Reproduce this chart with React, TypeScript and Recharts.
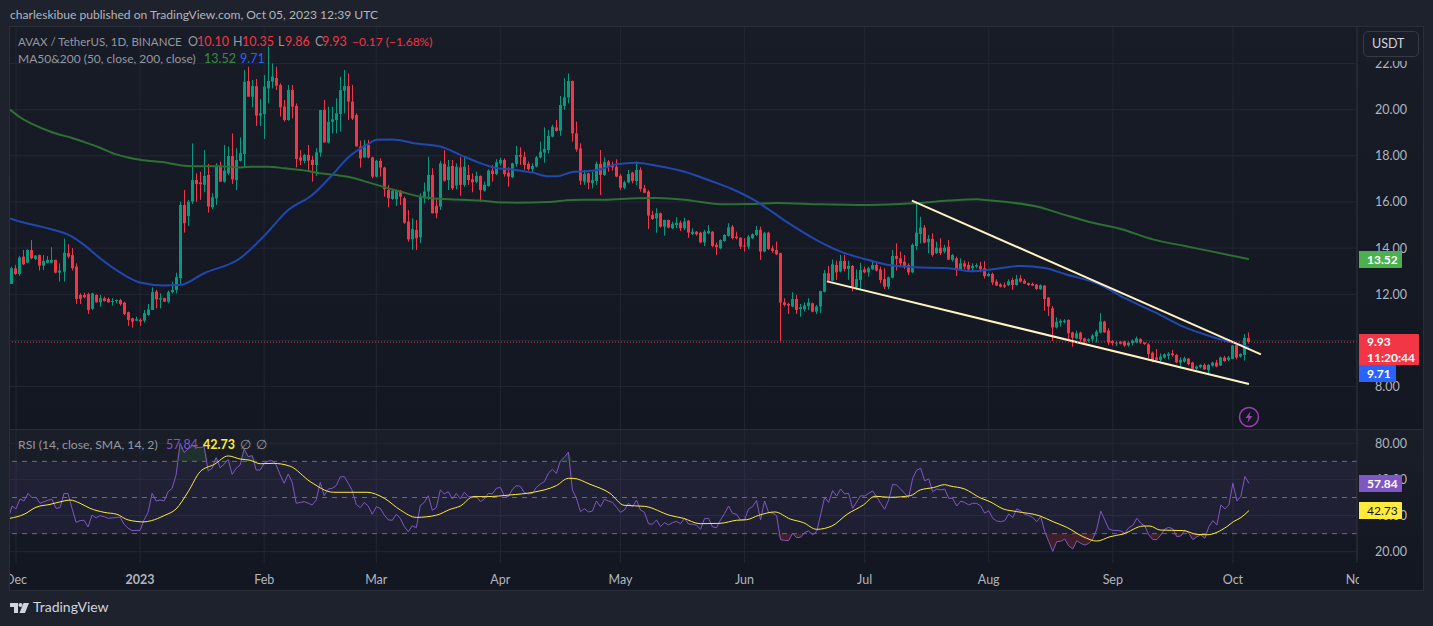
import React from "react";
import { ComposedChart, Bar, Line, Area, XAxis, YAxis, CartesianGrid, ReferenceLine, ReferenceArea } from "recharts";

const FONT = "Lato, 'Noto Sans', sans-serif";

// day index: 0 = 1 Dec 2022. First candle is 30 Nov 2022 (day -1).
const firstDay = -1;
const ohlc: number[][] = [
[12.45,13.2,12.45,13.13],[13.13,13.27,12.84,12.88],[12.88,13.66,12.79,13.59],[13.63,13.92,13.27,13.3],[13.37,13.95,13.34,13.92],[13.92,14.35,13.52,13.56],[13.53,13.7,13.49,13.67],[13.7,13.72,13.03,13.24],[13.24,13.7,13.05,13.44],[13.37,13.66,13.34,13.49],
[13.37,14.04,13.34,13.49],[13.49,13.5,12.91,12.94],[12.94,13.34,12.55,13.03],[12.98,14.41,12.55,13.8],[13.78,14.17,13.56,13.63],[13.7,14,13.03,13.13],[13.2,13.34,11.58,11.8],[11.97,12.04,11.58,11.8],[11.97,12.07,11.83,11.87],[12.01,12.07,11.15,11.32],
[11.37,12.07,11.32,12.04],[11.97,12,11.64,11.65],[11.65,11.97,11.47,11.83],[11.83,11.9,11.68,11.71],[11.8,11.86,11.64,11.65],[11.68,11.83,11.51,11.71],[11.71,11.78,11.61,11.75],[11.75,11.8,11.51,11.58],[11.64,11.68,11.1,11.15],[11.22,11.25,10.63,10.89],
[10.96,10.99,10.56,10.82],[10.86,11.03,10.84,10.92],[10.89,10.96,10.63,10.82],[10.86,11.32,10.77,11.18],[11.1,11.58,11.08,11.35],[11.32,12.3,11.32,12.09],[12.12,12.19,11.39,11.78],[11.77,12.04,11.39,11.83],[11.83,11.85,11.68,11.68],[11.68,12.16,11.61,12.09],
[12.09,12.55,12.04,12.19],[12.19,12.94,12.04,12.74],[12.7,16.01,12.4,15.87],[15.87,16.52,14.67,15.08],[15.39,16.09,14.96,16.01],[16.01,18.54,15.91,16.95],[16.95,17.24,16.01,16.78],[16.85,17.31,16.09,16.77],[16.74,18.25,16.42,17.13],[17.17,17.65,15.54,15.8],
[15.77,16.38,15.68,16.2],[16.16,17.68,15.87,17.56],[17.56,17.75,16.88,16.88],[16.88,18.47,16.84,17.36],[17.24,18.4,17.17,17.99],[17.99,18.97,16.78,16.98],[16.95,18.33,16.52,17.82],[17.78,18.8,17.75,18.11],[18.08,21.72,17.5,21.21],[21.24,21.86,20.56,20.56],
[20.56,21.28,20.1,21.02],[21.02,21.33,19.29,19.74],[19.74,20.45,19.29,19.84],[19.81,21.5,18.73,21],[20.92,22.73,20.27,21.24],[21.21,22,20.92,21.43],[21.37,21.86,20.85,21.04],[21.07,21.14,19.7,20.1],[20.13,20.42,19.48,19.55],[19.55,21.07,19.52,20.85],
[20.85,21.07,19.62,20.13],[20.16,20.27,17.5,17.86],[17.93,18.25,17.6,17.79],[17.78,18.08,17.67,18.04],[18.04,18.47,17.31,17.79],[17.82,18,16.88,17.6],[17.6,18.33,17.13,18.15],[18.14,19.99,17.96,19.98],[19.99,20.42,18.57,18.58],[18.57,20.13,18.54,19.47],
[19.47,20.13,18.97,19.58],[19.55,20.49,18.97,19.84],[19.81,21.43,19.05,20.85],[20.82,21.72,19.84,21.02],[21.02,21.57,19.55,20.35],[20.35,21.07,19.55,19.62],[19.77,19.84,18.4,18.41],[18.4,18.66,17.49,17.89],[17.93,18.69,17.92,18.47],[18.47,18.69,17.89,17.93],
[17.93,17.96,17.03,17.1],[17.1,17.82,17.07,17.78],[17.78,17.89,17.1,17.49],[17.49,17.53,16.23,16.55],[16.52,16.74,15.77,16.16],[16.13,16.55,16.09,16.49],[16.12,16.55,15.83,16.52],[16.49,16.52,15.87,16.23],[16.16,16.23,15.05,15.1],[15.15,15.65,14.28,14.38],
[14.38,15.29,13.92,14.82],[14.79,15.22,13.92,14.43],[14.47,16.38,14.21,16.23],[16.16,16.84,15.94,16.45],[16.45,17.96,16.09,17.17],[17.17,17.46,15.5,15.51],[15.83,16.16,15.29,15.51],[15.8,17.78,15.65,17.67],[17.65,18.25,16.88,16.92],[16.95,17.82,16.52,17.53],
[17.56,17.82,16.52,16.59],[16.71,17.67,16.55,17.53],[17.5,17.96,16.27,16.74],[16.74,17.96,16.66,17.53],[17.17,17.6,16.74,16.95],[16.98,17.24,16.42,16.85],[16.87,17.31,16.81,17.13],[17.13,17.15,16.01,16.52],[16.49,16.88,16.45,16.74],[16.69,17.41,16.66,17.36],
[17.36,17.6,16.88,17.21],[17.21,17.85,17.17,17.72],[17.67,17.92,17.57,17.82],[17.82,17.89,17.1,17.21],[17.27,17.5,16.66,17.1],[17.07,17.7,17.03,17.67],[17.65,18.43,17.53,18.04],[18.04,18.37,17.6,17.96],[17.96,18.18,17.39,17.6],[17.65,17.75,17.36,17.42],
[17.42,17.68,17.27,17.56],[17.53,17.99,17.5,17.93],[17.93,18.61,17.89,18.18],[18.14,19.23,17.7,18.3],[18.25,19.12,18.11,18.86],[18.83,19.34,18.8,19.26],[19.23,19.55,19.05,19.08],[19.08,20.59,18.86,20.2],[20.16,21.36,19.99,20.53],[20.53,21.57,20.27,21.24],
[21.24,21.26,18.61,18.97],[18.97,19.48,18.18,18.28],[18.32,18.54,16.74,16.92],[16.88,17.39,16.74,17.21],[17.24,17.27,16.55,16.84],[16.81,17.31,16.59,16.95],[16.91,17.75,16.74,17.65],[17.65,18.25,16.3,17.17],[17.17,17.93,17.13,17.72],[17.75,17.82,17.31,17.53],
[17.6,17.75,17.36,17.5],[17.53,17.85,17.07,17.1],[17.13,17.21,16.52,16.62],[16.62,16.92,16.55,16.85],[16.85,17.39,16.81,17.21],[17.27,17.31,16.81,16.91],[16.91,17.75,16.74,17.39],[17.39,17.5,16.45,16.56],[16.59,16.74,16.38,16.4],[16.45,16.52,14.83,15.41],
[15.44,15.62,15.22,15.26],[15.29,15.73,14.67,15.51],[15.51,15.54,14.89,14.93],[14.93,15.23,14.54,15.22],[15.22,15.23,14.86,14.89],[14.86,15.15,14.82,15.05],[15,15.34,14.86,15.1],[15.1,15.19,14.74,14.86],[14.86,15.32,14.79,15.15],[15.19,15.22,14.45,14.67],
[14.61,14.86,14.57,14.71],[14.71,14.74,14.54,14.6],[14.67,14.71,14.21,14.25],[14.25,14.79,14.09,14.71],[14.64,15,14.61,14.74],[14.71,14.74,14.04,14.09],[14.14,14.24,13.7,14.04],[13.99,14.38,13.95,14.35],[14.31,14.6,14.28,14.57],[14.53,15.08,14.5,14.9],
[14.93,15,14.38,14.43],[14.5,14.71,14.38,14.43],[14.45,14.47,13.96,14.07],[14.11,14.43,13.85,14.07],[14.07,14.57,13.96,14.5],[14.43,14.64,14.4,14.6],[14.57,14.96,14.53,14.79],[14.79,14.93,13.49,13.85],[13.85,14.71,13.82,14.64],[14.67,14.71,13.92,13.96],
[13.99,14.11,13.8,13.88],[13.92,14.28,13.7,13.73],[13.78,13.8,9.98,11.64],[11.65,11.83,11.47,11.54],[11.58,11.64,11.15,11.51],[11.47,12.09,11.44,11.8],[11.8,11.97,11.15,11.32],[11.36,11.58,11.03,11.44],[11.35,11.65,11.25,11.51],[11.49,11.83,11.32,11.64],
[11.61,11.64,11.22,11.25],[11.25,11.54,11.15,11.47],[11.47,12.15,11.18,12.14],[12.11,13.05,12.08,12.91],[12.91,13.23,12.55,12.59],[12.59,13.51,12.56,13.3],[13.27,13.46,12.62,12.95],[12.99,13.71,12.95,13.44],[13.44,13.71,12.99,13.1],[13.1,13.46,12.62,13.23],
[13.23,13.27,12.12,12.3],[12.3,13.08,12.19,12.66],[12.62,13.36,12.19,13.05],[13.08,13.2,12.91,12.95],[12.95,13.2,12.77,13.13],[13.08,13.46,13.05,13.27],[13.27,13.41,12.99,13.03],[13.08,13.2,12.48,12.62],[12.66,13.13,12.23,12.33],[12.33,12.77,12.23,12.73],
[12.72,13.92,12.69,13.66],[13.66,14.21,13.03,13.53],[13.56,13.85,13.2,13.34],[13.41,13.7,13.1,13.23],[13.27,13.34,12.84,12.95],[12.95,14.21,12.91,14.14],[14.09,16.01,13.92,14.67],[14.61,15.36,14.21,14.89],[14.89,15,14.21,14.24],[14.25,14.57,13.78,14.4],
[14.4,14.64,13.63,13.7],[13.78,14.28,13.75,14.02],[14.02,14.43,13.7,13.78],[13.85,14.14,13.78,14.02],[14.06,14.35,13.49,13.5],[13.49,13.75,13.42,13.7],[13.56,13.63,12.79,13.05],[13.05,13.56,13.03,13.34],[13.34,13.46,13.08,13.2],[13.27,13.41,13.03,13.08],
[13.13,13.34,13.01,13.23],[13.2,13.34,13.13,13.26],[13.23,13.41,12.95,13.08],[13.13,13.44,12.68,12.79],[12.79,12.94,12.77,12.88],[12.88,12.94,12.4,12.51],[12.55,12.65,12.36,12.38],[12.43,12.48,12.3,12.33],[12.39,12.51,12.27,12.33],[12.39,12.65,12.36,12.56],
[12.62,12.72,12.19,12.4],[12.4,12.84,12.38,12.66],[12.69,12.84,12.51,12.55],[12.59,12.66,12.45,12.46],[12.48,12.51,12.36,12.4],[12.45,12.51,12.36,12.38],[12.42,12.45,12.19,12.23],[12.22,12.43,12.19,12.39],[12.38,12.4,11.29,11.8],[11.86,11.87,11.06,11.47],
[11.39,11.49,9.98,10.56],[10.56,11,10.52,10.81],[10.77,10.92,10.6,10.85],[10.79,10.92,10.74,10.86],[10.89,10.91,10.02,10.31],[10.35,10.38,9.73,10.12],[10.09,10.43,10.05,10.31],[10.34,10.38,9.85,10.05],[10.09,10.12,9.88,9.95],[9.99,10.09,9.92,10.05],
[10.05,10.28,9.95,10.21],[10.17,10.46,9.91,10.38],[10.34,11.18,10.31,10.82],[10.82,10.85,10.33,10.35],[10.43,10.53,9.81,9.91],[9.98,10.02,9.78,9.88],[9.88,9.98,9.76,9.91],[9.94,9.98,9.83,9.86],[9.96,9.99,9.73,9.78],[9.79,9.95,9.73,9.91],
[9.88,10.05,9.79,9.99],[9.92,10.17,9.88,10.09],[10.06,10.09,9.85,9.91],[9.91,9.92,9.81,9.85],[9.83,9.88,9.23,9.42],[9.47,9.52,9.05,9.16],[9.26,9.63,9.13,9.16],[9.16,9.44,9.08,9.3],[9.26,9.44,9.21,9.4],[9.34,9.49,9.18,9.42],
[9.44,9.59,9.3,9.36],[9.37,9.42,9.01,9.05],[9.04,9.27,8.79,9.16],[9.08,9.3,9.04,9.23],[9.21,9.24,8.92,8.97],[9.04,9.08,8.75,8.77],[8.78,8.92,8.72,8.87],[8.84,8.97,8.79,8.94],[8.94,9.01,8.72,8.75],[8.72,8.97,8.58,8.94],
[8.91,9.08,8.87,9.04],[9.04,9.16,8.84,8.87],[8.91,9.3,8.9,9.26],[9.26,9.33,9.08,9.11],[9.16,9.33,9.11,9.26],[9.2,9.8,9.18,9.78],[9.8,9.91,9.18,9.26],[9.3,9.44,9.26,9.42],[9.37,10.28,9.13,10.11],[10.1,10.35,9.86,9.93],
];

const ma200: number[][] = [[-1.5,20],[1,19.67],[4,19.38],[9,19.02],[14,18.77],[18,18.54],[21,18.35],[25,18.06],[28,17.93],[31,17.83],[38,17.69],[41,17.59],[44,17.55],[51,17.55],[56,17.49],[59,17.53],[63,17.53],[67,17.46],[73,17.34],[76,17.24],[81,17.14],[84,17.05],[88,16.85],[93,16.59],[96,16.45],[101,16.23],[104,16.16],[108,16.12],[116,16.06],[120,15.99],[125,15.97],[133,16],[139,16.09],[147,16.1],[155,16.16],[160,16.17],[167,16.1],[176,15.9],[183,15.91],[190,15.96],[201,15.9],[213,15.87],[224,15.94],[233,16.06],[240,16.12],[243,16.07],[255,15.8],[262,15.44],[269,15.1],[276,14.83],[284,14.38],[292,14.09],[298,13.88],[308,13.52]];
const ma50: number[][] = [[-1.5,15.29],[1,15.15],[7,14.9],[14,14.5],[17,14.14],[21,13.56],[27,12.84],[31,12.51],[37,12.38],[41,12.4],[47,12.91],[56,13.56],[62,14.53],[68,15.65],[74,16.3],[79,17.17],[83,17.93],[88,18.51],[90,18.69],[94,18.71],[100,18.53],[106,18.4],[111,18.04],[116,17.68],[118,17.56],[120,17.47],[124,17.41],[129,17.27],[133,17.11],[135,17.11],[139,17.3],[145,17.37],[150,17.63],[155,17.7],[160,17.57],[167,17.31],[173,16.95],[179,16.55],[184,16.12],[188,15.68],[193,15.08],[200,14.35],[206,13.85],[212,13.53],[218,13.27],[225,13.17],[233,13.13],[239,13],[244,13.08],[251,13.23],[257,13.14],[262,12.88],[271,12.4],[277,11.83],[285,11.18],[291,10.64],[300,10.09],[305,9.85],[308,9.71]];
const trendUpper: number[][] = [[223.8,16.06],[311,9.4]];
const trendLower: number[][] = [[202.6,12.56],[308,8.11]];

const rsi: number[][] = [[-1.5,41.3],[-1,45.3],[0,43.7],[1,49.2],[2,48.1],[3,52.3],[4,49.9],[5,50.1],[6,46.8],[8,48.5],[9,49],[10,44],[11,44.4],[12,52.3],[13,52.1],[14,44],[15,36.3],[16,37.2],[17,37.4],[18,33.7],[19,40.3],[20,38.7],[21,40],[22,39.4],[23,38.5],[25,38.9],[26,39.2],[27,35.2],[28,33],[29,31.7],[30,31.8],[31,31.8],[32,37.6],[33,41.8],[34,52.3],[35,48.1],[36,48.6],[37,48.1],[38,53.2],[39,55.1],[40,62.5],[41,80],[42,75],[43,76.9],[44,78.7],[45,77.8],[46,77.6],[47,78.2],[48,64.7],[49,66.2],[50,72.1],[51,66.5],[52,68.4],[53,71.1],[54,62.8],[55,66.2],[56,68],[57,76.9],[58,72.6],[59,73.2],[60,65.2],[61,65.2],[62,68.9],[63,70.2],[64,70.4],[65,68],[66,62.5],[67,57.9],[68,63],[69,58.4],[70,46.8],[71,47.3],[72,47.7],[73,46.8],[74,45.9],[75,48.6],[76,58.4],[77,51],[78,54.7],[79,55.1],[80,56.6],[81,61.4],[82,61.6],[83,57.9],[84,53.8],[85,46.2],[86,44.4],[87,47.2],[88,45.3],[89,40.7],[90,44.9],[91,44],[92,40.3],[93,37.6],[94,37.4],[95,40.7],[96,38.5],[97,33.9],[98,31.1],[99,34.4],[100,33.3],[101,45.5],[102,47.3],[103,51],[104,42.9],[105,44.4],[106,54.2],[107,52],[108,53.2],[109,49.2],[110,52.3],[111,49.2],[112,52.9],[113,50.5],[114,50.3],[115,50.7],[116,47.7],[117,49.2],[118,52.3],[119,52],[120,55.1],[121,55.6],[122,51],[123,50.5],[124,54.5],[125,56.6],[126,56.2],[127,52.7],[128,52],[129,52.3],[130,55.6],[131,57.5],[132,58.8],[133,63.4],[134,65.6],[135,63.4],[136,70.2],[137,72.3],[138,75.2],[139,54.2],[140,49.6],[141,42.2],[142,43.8],[143,42],[144,42.5],[145,48.1],[146,44.9],[147,49],[148,48.1],[149,47.3],[150,44.6],[151,41.8],[152,43.1],[153,46.8],[154,44.9],[155,48.5],[156,43.1],[157,41.8],[158,35.5],[159,35.2],[160,37.6],[161,33.9],[162,36.1],[163,34.8],[164,36.1],[165,36.8],[166,35.5],[167,38.5],[168,35.4],[169,35.2],[170,34.8],[171,32.4],[172,38.3],[173,38.5],[174,33.7],[175,33.3],[176,37.6],[177,41.1],[178,45.3],[179,41.3],[180,40.7],[181,37.6],[182,37.6],[183,43.7],[184,44.9],[185,48.3],[186,37.6],[187,48.1],[188,41.8],[189,41.3],[190,40],[191,26.7],[192,26.3],[193,26.1],[194,30.2],[195,27.8],[196,28],[197,30.6],[198,31.5],[199,29.4],[200,31.1],[201,40.3],[202,50.1],[203,47.3],[204,53.8],[205,50.8],[206,54.7],[207,52],[208,52.3],[209,44],[210,47.5],[211,51],[212,50.8],[213,52.3],[214,53.6],[215,50.5],[216,46.8],[217,43.5],[218,48.6],[219,57.3],[220,56.9],[221,54.7],[222,52.3],[223,49.9],[224,60.6],[225,65.1],[226,66.2],[227,59.2],[228,60.3],[229,53.2],[230,54.7],[231,54.2],[232,54.7],[233,49.6],[234,49.6],[235,45.3],[236,47.9],[237,47.3],[238,45.9],[239,46.8],[240,46.8],[241,45.3],[242,41.3],[243,42.7],[244,38.5],[245,37],[246,36.6],[247,37.2],[248,40.9],[249,38.9],[250,43.7],[251,42.7],[252,40.7],[253,40],[254,39],[255,36.6],[256,39.4],[257,31.1],[258,25.6],[259,20.2],[260,25.6],[261,25.8],[262,27],[263,23.2],[264,21.5],[265,26.1],[266,24.6],[267,23.7],[268,24.6],[269,27],[270,32.6],[271,42.5],[272,37.6],[273,32.6],[274,31.8],[275,31.8],[276,31.5],[277,30.2],[278,33.3],[279,34.6],[280,38.5],[281,35.7],[282,34.2],[283,29.3],[284,26.7],[285,26.7],[286,29.3],[287,32.6],[288,33.5],[289,32.6],[290,28.3],[291,28.7],[292,32],[293,30.2],[294,26.7],[295,28.3],[296,29.3],[297,27.4],[298,33.9],[299,37.2],[300,34.8],[301,45.9],[302,43.7],[303,45.9],[304,57.9],[305,48.1],[306,50.7],[307,61.7],[308,57.84]];
const rsiMa: number[][] = [[-1.5,38.5],[2,40.7],[5,44.6],[8.5,46.2],[12,48.1],[13.5,48.6],[16,46.8],[18.5,44],[22,41.8],[25.2,40.7],[28,37.6],[32,36.5],[33.8,37.2],[37,40],[40,43.7],[43,53.2],[46,64.3],[49.6,68.4],[53,73],[56,71.3],[58.5,70.6],[61,68.7],[64.3,68.9],[68.5,67.3],[73.5,58.8],[79.3,52.9],[87.7,52.9],[92,49.6],[96,43.1],[100,39],[105,40.2],[108.5,43.5],[111,45.3],[114.3,50.5],[117.6,50.5],[123.4,51.4],[129.2,52.9],[135,56.6],[138,60.6],[139.2,60.6],[143.4,57.3],[148.4,52.3],[151.9,45.7],[157.1,45.1],[163.4,40.1],[166.7,38.5],[170.9,35.5],[175.9,35.7],[180,37.4],[182.5,37.7],[185.5,40.1],[189.6,42],[193.4,38.1],[196.7,36.1],[200,32.4],[203.8,34.2],[207.6,40.7],[211.7,45.9],[214.6,50.7],[218.4,50.1],[223.4,51],[225.9,54.2],[229.2,55.5],[232,57.1],[233.3,56.4],[237,54.7],[240.8,49.9],[243.3,47.7],[246.6,43.7],[250,42.2],[255.8,39.8],[259.1,36.6],[262.5,33.5],[266.6,28.3],[270,25.9],[273.3,28.3],[276.6,29.8],[281.6,34.2],[283.3,34.2],[285.8,32],[291.6,31.7],[295,29.6],[297.5,29.4],[302.5,33.9],[304.1,36.6],[306,38.9],[308,42.73]];

const monthDays = [0, 31, 62, 90, 121, 151, 182, 212, 243, 274, 304, 335];
const monthLabels = ["Dec", "2023", "Feb", "Mar", "Apr", "May", "Jun", "Jul", "Aug", "Sep", "Oct", "Nov"];
const priceTicks = [8, 10, 12, 14, 16, 18, 20, 22];
const rsiTicks = [20, 40, 60, 80];
const lastClose = 9.93;

const candleRows = ohlc.map((r, i) => ({ d: firstDay + i, o: r[0], h: r[1], l: r[2], c: r[3], range: [r[2], r[1]] }));
const toRows = (pts: number[][]) => pts.map((p) => ({ d: p[0], v: p[1] }));
const rsiRows = rsi.map((p) => ({ d: p[0], v: p[1], over: [70, Math.max(70, p[1])], under: [Math.min(30, p[1]), 30] }));

const xDomain: [number, number] = [-1.5, 335];
const GRID = "#232732";
const AXIS = "#2a2e39";
const TXT = "#b2b5be";
const FS = 12.5;

function Candle(props: any) {
  const { x, y, width, height, payload } = props;
  const top = Math.min(y, y + height);
  const H = Math.abs(height);
  const k = H / (payload.h - payload.l);
  const cx = Math.round(x + width / 2 - 0.5);
  const up = payload.c >= payload.o;
  const color = up ? "#089981" : "#f23645";
  const bTop = top + (payload.h - Math.max(payload.o, payload.c)) * k;
  const bH = Math.max(1, Math.abs(payload.o - payload.c) * k);
  return (
    <g>
      <rect x={cx} y={top} width={1} height={H} fill={color} />
      <rect x={cx - 1} y={bTop} width={3} height={bH} fill={color} />
    </g>
  );
}

function TimeTick(props: any) {
  const { x, y, payload } = props;
  const i = monthDays.indexOf(payload.value);
  return (
    <text x={x} y={y + 13} textAnchor="middle" fill={TXT} fontSize={FS} fontFamily={FONT} fontWeight={i === 1 ? 700 : 400}>
      {monthLabels[i]}
    </text>
  );
}

function PriceTick(props: any) {
  const { y, payload, x } = props;
  return (
    <text x={x + 10} y={y + 4.5} textAnchor="start" fill={TXT} fontSize={FS} fontFamily={FONT}>
      {payload.value.toFixed(2)}
    </text>
  );
}

const T: React.FC<{ x: number; y: number; c?: string; w?: number; s?: number; children: React.ReactNode }> = ({ x, y, c = TXT, w = 400, s = FS, children }) => (
  <span style={{ position: "absolute", left: x, top: y, zIndex: 5, color: c, fontWeight: w, fontSize: s, lineHeight: "16px", whiteSpace: "nowrap", fontFamily: FONT }}>{children}</span>
);

const Box: React.FC<{ x: number; y: number; w: number; h: number; bg: string; c?: string; weight?: number; lines: string[] }> = ({ x, y, w, h, bg, c = "#fff", weight = 700, lines }) => (
  <div style={{ position: "absolute", zIndex: 6, left: x, top: y, width: w, height: h, background: bg, color: c, fontFamily: FONT, fontSize: 12, fontWeight: weight, lineHeight: `${h / lines.length}px`, paddingLeft: 8, boxSizing: "border-box", borderRadius: "0 1px 1px 0", whiteSpace: "nowrap" }}>
    {lines.map((l) => (
      <div key={l}>{l}</div>
    ))}
  </div>
);

export default function App() {
  return (
    <div style={{ position: "absolute", left: 0, top: 0, width: 1433, height: 626, background: "#1e222d", overflow: "hidden", fontFamily: FONT }}>
      <T x={10} y={7} s={12.1}>charleskibue published on TradingView.com, Oct 05, 2023 12:39 UTC</T>

      <div style={{ position: "absolute", left: 9, top: 26, width: 1415, height: 565, background: AXIS }} />
      <div style={{ position: "absolute", left: 10, top: 27, width: 1413, height: 402, background: "linear-gradient(#181c27,#131722)" }} />
      <div style={{ position: "absolute", left: 10, top: 430, width: 1413, height: 133, background: "linear-gradient(#1a1e29,#131722)" }} />
      <div style={{ position: "absolute", left: 10, top: 563, width: 1413, height: 27, background: "#131722" }} />

      <div style={{ position: "absolute", left: 10, top: 27, zIndex: 1 }}>
        <ComposedChart width={1413} height={403} data={candleRows} margin={{ top: 0, right: 0, bottom: 0, left: 0 }}>
          <CartesianGrid stroke={GRID} horizontalValues={priceTicks} verticalValues={monthDays} />
          <XAxis dataKey="d" type="number" domain={xDomain} ticks={monthDays} hide allowDataOverflow />
          <YAxis orientation="right" width={66} type="number" domain={[6.12, 23.58]} ticks={priceTicks} allowDataOverflow tickLine={false} axisLine={{ stroke: AXIS }} tick={<PriceTick />} interval={0} />
          <Bar dataKey="range" barSize={3} shape={<Candle />} isAnimationActive={false} />
          <Line data={toRows(ma200)} dataKey="v" stroke="#2e7034" strokeWidth={2} dot={false} type="monotone" isAnimationActive={false} />
          <Line data={toRows(ma50)} dataKey="v" stroke="#2048b0" strokeWidth={2} dot={false} type="monotone" isAnimationActive={false} />
          <Line data={toRows(trendUpper)} dataKey="v" stroke="#fff3c4" strokeWidth={2} dot={false} type="linear" isAnimationActive={false} />
          <Line data={toRows(trendLower)} dataKey="v" stroke="#fff3c4" strokeWidth={2} dot={false} type="linear" isAnimationActive={false} />
          <ReferenceLine y={lastClose} stroke="#f23645" strokeDasharray="1 2" />
        </ComposedChart>
      </div>

      <div style={{ position: "absolute", left: 10, top: 429, width: 1413, height: 1, background: AXIS, zIndex: 2 }} />

      <div style={{ position: "absolute", left: 10, top: 430, zIndex: 1 }}>
        <ComposedChart width={1413} height={160} data={rsiRows} margin={{ top: 0, right: 0, bottom: 0, left: 0 }}>
          <CartesianGrid stroke={GRID} horizontalValues={rsiTicks} verticalValues={monthDays} />
          <ReferenceArea y1={30} y2={70} fill="#7e57c2" fillOpacity={0.1} stroke="none" />
          <XAxis dataKey="d" type="number" domain={xDomain} ticks={monthDays} interval={0} height={27} tickLine={false} axisLine={false} tick={<TimeTick />} allowDataOverflow />
          <YAxis orientation="right" width={66} type="number" domain={[13.76, 87.36]} ticks={rsiTicks} allowDataOverflow tickLine={false} axisLine={{ stroke: AXIS }} tick={<PriceTick />} interval={0} />
          <ReferenceLine y={70} stroke="#6a6d78" strokeDasharray="5 5" />
          <ReferenceLine y={50} stroke="#6a6d78" strokeDasharray="5 5" />
          <ReferenceLine y={30} stroke="#6a6d78" strokeDasharray="5 5" />
          <Area dataKey="over" stroke="none" fill="#4caf50" fillOpacity={0.15} dot={false} activeDot={false} isAnimationActive={false} type="linear" />
          <Area dataKey="under" stroke="none" fill="#f23645" fillOpacity={0.2} dot={false} activeDot={false} isAnimationActive={false} type="linear" />
          <Line dataKey="v" stroke="#7e57c2" strokeWidth={1} dot={false} type="linear" isAnimationActive={false} />
          <Line data={toRows(rsiMa)} dataKey="v" stroke="#ffeb3b" strokeWidth={1} dot={false} type="monotone" isAnimationActive={false} />
        </ComposedChart>
      </div>

      {/* hides the clipped part of the last month label under the price scale */}
      <div style={{ position: "absolute", left: 1359, top: 563, width: 64, height: 27, background: "#131722", zIndex: 2 }} />

      <T x={18} y={34} c="#9598a1" s={11.5}>AVAX / TetherUS, 1D, BINANCE</T>
      <T x={188} y={34} c="#9598a1">O</T><T x={197} y={34} c="#f23645">10.10</T>
      <T x={233} y={34} c="#9598a1">H</T><T x={242} y={34} c="#f23645">10.35</T>
      <T x={278} y={34} c="#9598a1">L</T><T x={285} y={34} c="#f23645">9.86</T>
      <T x={315} y={34} c="#9598a1">C</T><T x={322} y={34} c="#f23645">9.93</T>
      <T x={352} y={34} c="#f23645" s={12}>−0.17 (−1.68%)</T>
      <T x={18} y={51} c="#9598a1" s={12}>MA50&amp;200 (50, close, 200, close)</T>
      <T x={204} y={51} c="#388e3c">13.52</T>
      <T x={240} y={51} c="#2962ff">9.71</T>

      <T x={18} y={437} c="#9598a1" s={12.2}>RSI (14, close, SMA, 14, 2)</T>
      <T x={166} y={437} c="#7e57c2">57.84</T>
      <T x={203} y={437} c="#ffeb3b" w={700}>42.73</T>
      <T x={240} y={437} c="#9598a1">∅</T>
      <T x={256} y={437} c="#9598a1">∅</T>

      <Box x={1359} y={251} w={43} h={17} bg="#4caf50" lines={["13.52"]} />
      <Box x={1359} y={334} w={60} h={31} bg="#f23645" lines={["9.93", "11:20:44"]} />
      <Box x={1359} y={365} w={37} h={17} bg="#2962ff" lines={["9.71"]} />
      <Box x={1359} y={475} w={43} h={17} bg="#7e57c2" lines={["57.84"]} />
      <Box x={1359} y={502} w={43} h={17} bg="#ffeb3b" c="#131722" weight={400} lines={["42.73"]} />

      <div style={{ position: "absolute", zIndex: 4, left: 1358, top: 28, width: 64, height: 33, background: "#191d28" }} />
      <div style={{ position: "absolute", zIndex: 5, left: 1363, top: 31, width: 56, height: 26, border: "1px solid #363a45", borderRadius: 5, boxSizing: "border-box", background: "#1a1e29", color: "#d1d4dc", fontSize: FS, lineHeight: "24px", paddingLeft: 8, fontFamily: FONT }}>USDT</div>

      <svg style={{ position: "absolute", left: 1238, top: 406, zIndex: 3 }} width={22} height={22}>
        <circle cx={11} cy={11} r={9.5} fill="none" stroke="#9c3fb5" strokeWidth={1.5} />
        <path d="M12.5 5.5 L7.5 12 L10.5 12 L9.5 16.5 L14.5 10 L11.5 10 Z" fill="#9c3fb5" />
      </svg>

      <svg style={{ position: "absolute", left: 10, top: 602, zIndex: 3 }} width={20} height={12}>
        <path d="M0 1 H8 V11 H4 V5 H0 Z" fill="#d1d4dc" />
        <circle cx={10.5} cy={3} r={2} fill="#d1d4dc" />
        <path d="M13.5 1 H19 L15 11 H9.5 Z" fill="#d1d4dc" />
      </svg>
      <T x={33} y={599} c="#d1d4dc" s={14}>TradingView</T>
    </div>
  );
}
